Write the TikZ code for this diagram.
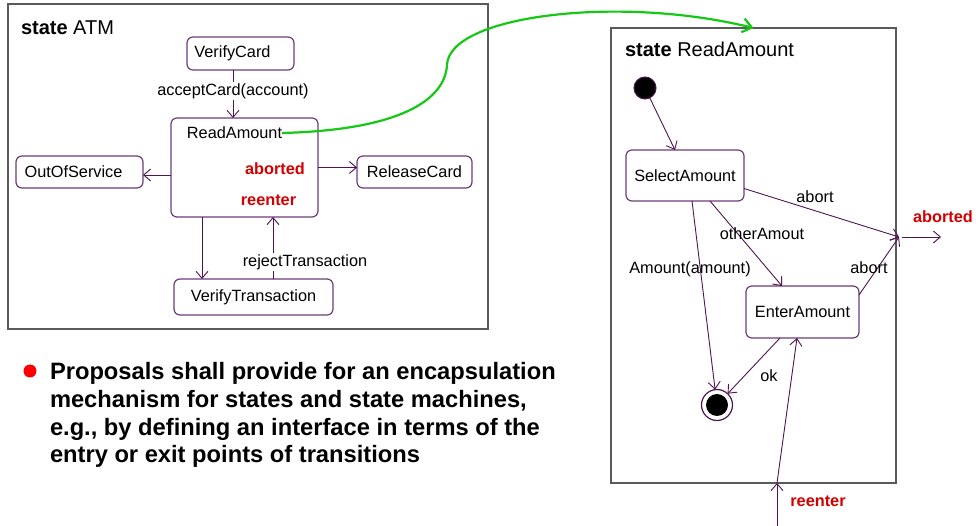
\documentclass[tikz,border=0pt]{standalone}
\usepackage{fontspec}
\setmainfont{Liberation Sans}
\usetikzlibrary{arrows.meta,calc}
\definecolor{boxc}{RGB}{110,60,120}
\definecolor{linec}{RGB}{80,20,80}
\definecolor{framec}{RGB}{90,90,90}
\definecolor{redc}{RGB}{210,0,0}
\definecolor{greenc}{RGB}{20,200,20}
\begin{document}
\begin{tikzpicture}[x=1pt,y=-1pt,
 every node/.style={font=\fontsize{16.3}{19}\selectfont, inner sep=0pt, outer sep=0pt},
 statebox/.style 2 args={draw=boxc, line width=1.2pt, rounded corners=6pt, fill=white, minimum width=#1, minimum height=#2},
 frame/.style 2 args={draw=framec, line width=1.4pt, minimum width=#1, minimum height=#2},
 conn/.style={draw=linec, line width=0.9pt, -{Straight Barb[length=7pt,width=12pt]}},
 redlbl/.style={text=redc, font=\fontsize{16.3}{19}\selectfont\bfseries},
 title/.style={anchor=west, font=\fontsize{20}{24}\selectfont},
 bul/.style={anchor=base west, font=\fontsize{23.7}{28}\selectfont\bfseries},
 wlbl/.style={fill=white, inner sep=1pt}
]
\useasboundingbox (0,0) rectangle (978,526);
% frames
\node[frame={480pt}{325pt}] (lframe) at (248,166.5) {};
\node[frame={285pt}{455pt}] (rframe) at (753.5,255.5) {};
\node[title] (ltitle) at (21,28) {\textbf{state} ATM};
\node[title] (rtitle) at (625,49) {\textbf{state} ReadAmount};
% left states
\node[statebox={107pt}{33pt}] (vc) at (240.5,53.5) {VerifyCard\hspace*{16pt}};
\node[statebox={147pt}{99pt}] (ra) at (244.5,167.5) {};
\node (ratext) at (234.5,133) {ReadAmount};
\node[redlbl] (rab) at (275,169) {aborted};
\node[redlbl] (rre) at (268.5,200) {reenter};
\node[statebox={127pt}{32pt}] (oos) at (79.5,172) {OutOfService\hspace*{12pt}};
\node[statebox={115pt}{32pt}] (rc) at (414.5,172) {ReleaseCard};
\node[statebox={159pt}{36pt}] (vt) at (253.5,297) {VerifyTransaction};
% left connectors
\draw[conn] ($(vc.south)+(-7.5,0)$) -- ($(ra.north)+(-11.5,0)$) node[midway, wlbl, yshift=3pt] (lacc) {acceptCard(account)};
\draw[conn] ($(ra.west)+(0,7.5)$) -- ($(oos.east)+(0,3)$);
\draw[conn] (ra.east) -- (rc.west |- ra.east);
\coordinate (p1) at ($(ra.south)+(-42.5,0)$);
\coordinate (p2) at ($(ra.south)+(28.5,0)$);
\draw[conn] (p1) -- (p1 |- vt.north);
\draw[conn] (p2 |- vt.north) -- (p2);
\node[wlbl] (lrej) at (305,262) {rejectTransaction};
% right states
\node[circle, draw=linec, fill=black, line width=1pt, minimum size=22pt] (init) at (645,88) {};
\node[statebox={118pt}{51pt}] (sa) at (685,175.5) {SelectAmount};
\node[statebox={113pt}{52pt}] (ea) at (802.5,312) {EnterAmount};
\node[circle, draw=linec, fill=white, line width=1.2pt, minimum size=31pt] (fin) at (717,405) {};
\fill[black] (fin.center) circle (11);
\coordinate (ab) at (899,237);
\coordinate (abend) at (941,237);
\coordinate (re) at (777,483);
\coordinate (rebot) at (777,526);
% right connectors
\draw[conn] (init) -- ($(sa.north)+(-10,0)$);
\draw[conn] ($(sa.east)+(0,13)$) -- (ab);
\draw[conn] ($(ea.north east)+(0,9)$) -- (ab);
\draw[conn] ($(sa.south)+(25,0)$) -- ($(ea.north)+(-20.5,0)$);
\draw[conn] ($(sa.south)+(7,0)$) -- (fin);
\draw[conn] ($(ea.south)+(-22.5,0)$) -- (fin);
\draw[conn] (rebot) -- (re);
\draw[conn] (re) -- ($(ea.south)+(-5.5,0)$);
\draw[conn] ($(ab)+(3,0)$) -- (abend);
% right labels
\node (l1) at (815,197) {abort};
\node (l2) at (869,268) {abort};
\node (l3) at (762,234) {otherAmout};
\node (l4) at (690,269) {Amount(amount)};
\node (l5) at (769,376) {ok};
\node[redlbl] (lab) at (943,217) {aborted};
\node[redlbl] (lre) at (818,501) {reenter};
% green arrow
\draw[greenc, line width=2.2pt, -{Straight Barb[length=9pt,width=14pt]}] (ratext.east) .. controls (400,130) and (445,100) .. (447,65) .. controls (449,15) and (620,-5) .. (rframe.north);
% bullet
\fill[red] (30,371) circle (6.5);
\node[bul] (b1) at (50,380) {Proposals shall provide for an encapsulation};
\node[bul] (b2) at (50,408) {mechanism for states and state machines,};
\node[bul] (b3) at (50,436) {e.g., by defining an interface in terms of the};
\node[bul] (b4) at (50,463) {entry or exit points of transitions};
\end{tikzpicture}
\end{document}
